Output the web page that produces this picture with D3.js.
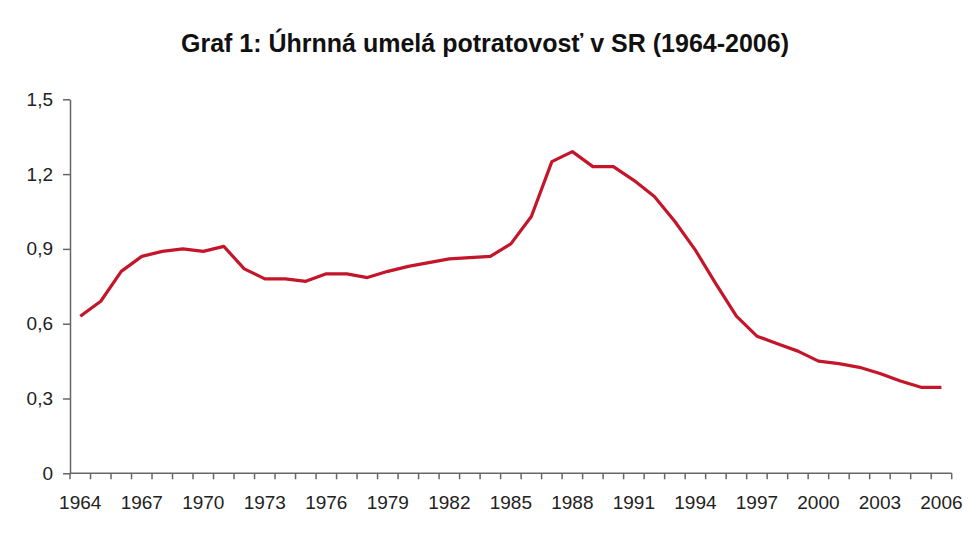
<!DOCTYPE html>
<html>
<head>
<meta charset="utf-8">
<script src="https://cdn.jsdelivr.net/npm/d3@7"></script>
<style>
  body { margin: 0; background: #fff; }
  svg { display: block; font-family: "Liberation Sans", Arial, sans-serif; }
</style>
</head>
<body>
<svg id="chart" width="970" height="538"></svg>
<script>
"use strict";

var title = "Graf 1: Úhrnná umelá potratovosť v SR (1964-2006)";

var years = [1964, 1965, 1966, 1967, 1968, 1969, 1970, 1971, 1972, 1973,
    1974, 1975, 1976, 1977, 1978, 1979, 1980, 1981, 1982, 1983,
    1984, 1985, 1986, 1987, 1988, 1989, 1990, 1991, 1992, 1993,
    1994, 1995, 1996, 1997, 1998, 1999, 2000, 2001, 2002, 2003,
    2004, 2005, 2006];

var rates = [0.63, 0.69, 0.81, 0.87, 0.89, 0.90, 0.89, 0.91, 0.82, 0.78,
    0.78, 0.77, 0.80, 0.80, 0.785, 0.81, 0.83, 0.845, 0.86, 0.865,
    0.87, 0.92, 1.03, 1.25, 1.29, 1.23, 1.23, 1.175, 1.11, 1.01,
    0.895, 0.76, 0.63, 0.55, 0.52, 0.49, 0.45, 0.44, 0.425, 0.40,
    0.37, 0.345, 0.345];

var yTicks = [0, 0.3, 0.6, 0.9, 1.2, 1.5];
var xLabelYears = [1964, 1967, 1970, 1973, 1976, 1979, 1982, 1985, 1988, 1991, 1994, 1997, 2000, 2003, 2006];

var svg = d3.select("#chart");
var plotLeft = 70, plotRight = 951.7, plotTop = 99.3, plotBottom = 473.3;
var axisColor = "#666";

var x = d3.scaleBand().domain(years).range([plotLeft, plotRight]);
var y = d3.scaleLinear().domain([0, 1.5]).range([plotBottom, plotTop]);

svg.append("text")
    .attr("x", 485)
    .attr("y", 52)
    .attr("text-anchor", "middle")
    .attr("font-size", 25)
    .attr("font-weight", "bold")
    .attr("fill", "#111")
    .text(title);

// y axis
var yAxis = svg.append("g")
    .attr("transform", "translate(" + plotLeft + ",0)")
    .call(d3.axisLeft(y).tickValues(yTicks).tickSizeInner(7).tickSizeOuter(0).tickPadding(10)
        .tickFormat(function (d) { return d === 0 ? "0" : d3.format(".1f")(d).replace(".", ","); }));
yAxis.select(".domain").attr("stroke", axisColor).attr("stroke-width", 1.5);
yAxis.selectAll(".tick line").attr("stroke", axisColor).attr("stroke-width", 1.5);
yAxis.selectAll(".tick text").attr("font-size", 19).attr("fill", "#222")
    .attr("font-family", "Liberation Sans, Arial, sans-serif");

// x axis: ticks between categories, labels every third year
var xAxisG = svg.append("g").attr("transform", "translate(0," + plotBottom + ")");
xAxisG.append("line")
    .attr("x1", plotLeft).attr("x2", plotRight)
    .attr("stroke", axisColor).attr("stroke-width", 1.5);
var boundaries = years.map(function (d) { return x(d); }).concat([plotRight]);
xAxisG.selectAll("line.tk").data(boundaries).enter().append("line")
    .attr("class", "tk")
    .attr("x1", function (d) { return d; }).attr("x2", function (d) { return d; })
    .attr("y1", 0).attr("y2", 6)
    .attr("stroke", axisColor).attr("stroke-width", 1.5);
xAxisG.selectAll("text").data(xLabelYears).enter().append("text")
    .attr("x", function (d) { return x(d) + x.bandwidth() / 2; })
    .attr("y", 36)
    .attr("text-anchor", "middle")
    .attr("font-size", 19)
    .attr("fill", "#222")
    .text(function (d) { return d; });

var line = d3.line()
    .x(function (d, i) { return x(years[i]) + x.bandwidth() / 2; })
    .y(function (d) { return y(d); });

svg.append("path")
    .datum(rates)
    .attr("d", line)
    .attr("fill", "none")
    .attr("stroke", "#c4162a")
    .attr("stroke-width", 3.2)
    .attr("stroke-linejoin", "round");
</script>
</body>
</html>
